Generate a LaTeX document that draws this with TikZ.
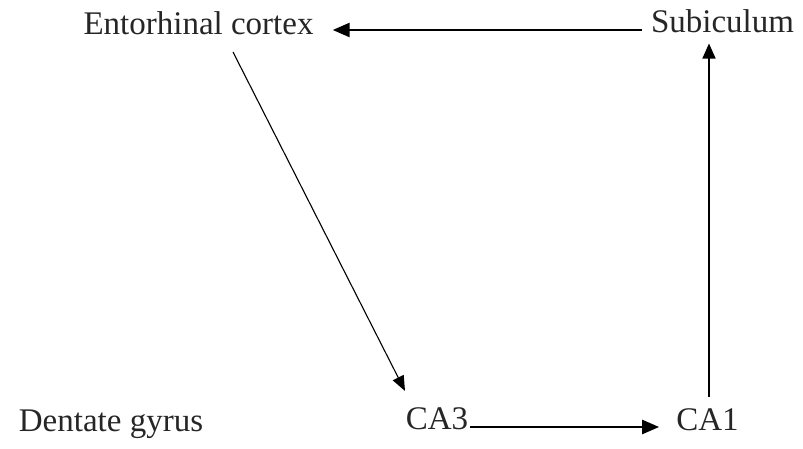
\documentclass[tikz,border=0pt]{standalone}
\usepackage{fontspec}
\setmainfont{Liberation Serif}
\usetikzlibrary{arrows.meta}

\begin{document}
\begin{tikzpicture}[x=1pt,y=1pt,
    region/.style={inner sep=0pt,anchor=base,text=black!85,font=\fontsize{33}{36}\selectfont},
    link/.style={-{Triangle[length=17pt,width=14pt]}}]
  % hippocampal loop: regions at pixel-like positions, y measured from the bottom
  \useasboundingbox (0,0) rectangle (803,449);
  \node[region] (ec) at (198.5,414) {Entorhinal cortex};
  \node[region] (sub) at (722.5,416) {Subiculum};
  \node[region] (dg) at (111,17) {Dentate gyrus};
  \node[region] (ca3) at (437,19) {CA3};
  \node[region] (ca1) at (707.5,18) {CA1};
  % connectors
  \draw[link,line width=2.6pt,shorten <=9pt,shorten >=19pt]
    ([yshift=3pt]sub.base west) -- ([yshift=3pt]sub.base west -| ec.base east);
  \draw[link,line width=1.1pt,-{Triangle[length=15pt,width=12pt]}]
    ([shift={(34.5,-17)}]ec.base) -- ([shift={(-32,17)}]ca3.north);
  \draw[link,line width=2.6pt,shorten <=2pt,shorten >=17pt]
    ([yshift=3pt]ca3.base east) -- ([yshift=3pt]ca3.base east -| ca1.base west);
  \draw[link,line width=1.6pt,shorten <=12pt,shorten >=10pt,-{Triangle[length=15pt,width=13pt]}]
    ([xshift=1.5pt]ca1.north) -- ([xshift=1.5pt]ca1.north |- sub.south);
\end{tikzpicture}
\end{document}
